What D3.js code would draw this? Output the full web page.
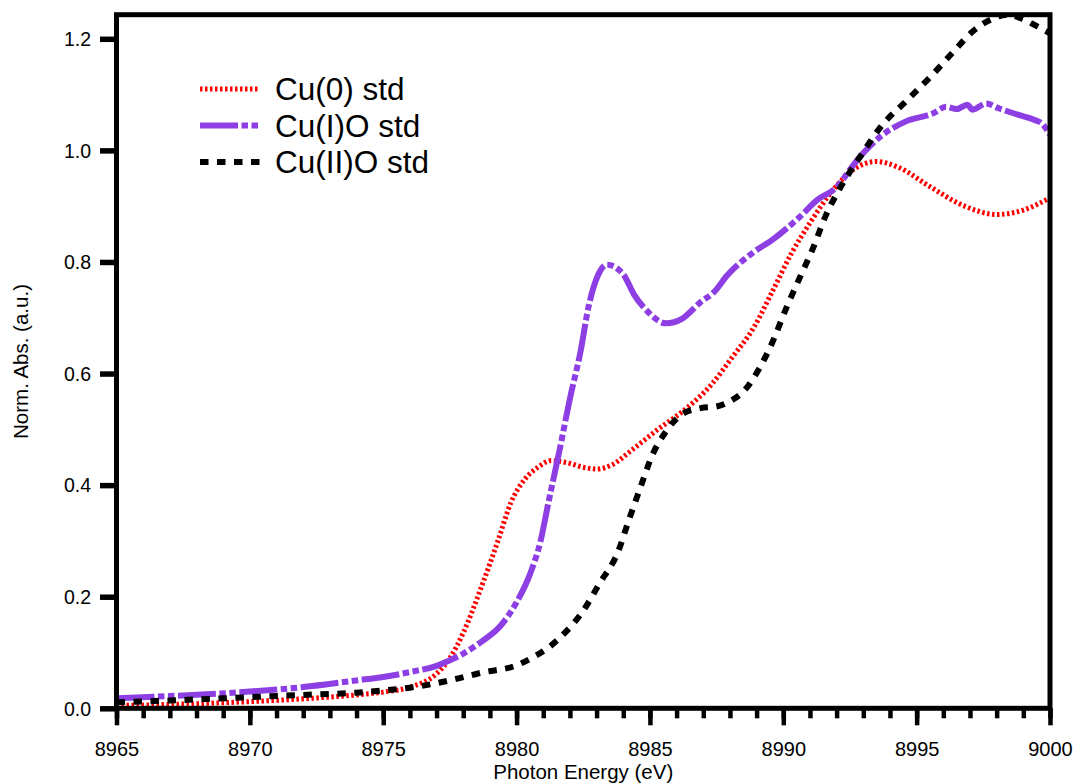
<!DOCTYPE html>
<html>
<head>
<meta charset="utf-8">
<script src="https://cdn.jsdelivr.net/npm/d3@7"></script>
<style>
  html, body { margin: 0; padding: 0; background: #fff; }
  svg { display: block; font-family: "Liberation Sans", Arial, sans-serif; }
</style>
</head>
<body>
<svg id="chart" width="1076" height="784"></svg>
<script>
// Cu K-edge XANES of reference standards (normalised absorption vs. photon energy)
const cu0Energy = [8965, 8967, 8970, 8972, 8974, 8975, 8976, 8977, 8977.5, 8978, 8978.7, 8979.3, 8979.8, 8980.3, 8980.8, 8981.3, 8981.9, 8982.5, 8983, 8983.6, 8984.3, 8985.3, 8986.3, 8987.3, 8988.1, 8988.9, 8989.6, 8990.3, 8991, 8991.8, 8992.7, 8993.5, 8994.3, 8995.5, 8996.8, 8998, 8999, 9000];
const cu0Abs    = [0.005, 0.007, 0.012, 0.017, 0.024, 0.029, 0.038, 0.062, 0.09, 0.135, 0.22, 0.30, 0.37, 0.41, 0.432, 0.444, 0.44, 0.432, 0.429, 0.437, 0.462, 0.50, 0.535, 0.58, 0.63, 0.683, 0.748, 0.815, 0.87, 0.925, 0.968, 0.98, 0.97, 0.935, 0.90, 0.885, 0.893, 0.915];

const cu1Energy = [8965, 8967, 8970, 8972, 8974, 8975, 8976, 8977, 8977.5, 8978, 8978.7, 8979.4, 8980, 8980.5, 8980.9, 8981.2, 8981.6, 8982, 8982.4, 8982.7, 8983, 8983.4, 8984, 8984.4, 8984.9, 8985.6, 8986.2, 8986.9, 8987.4, 8987.9, 8988.9, 8989.6, 8990.6, 8991.3, 8991.9, 8992.9, 8993.7, 8994.6, 8995.6, 8996.1, 8996.5, 8996.9, 8997.1, 8997.6, 8998.1, 8998.8, 8999.4, 8999.7, 9000];
const cu1Abs    = [0.018, 0.022, 0.03, 0.038, 0.05, 0.056, 0.065, 0.076, 0.086, 0.098, 0.12, 0.148, 0.19, 0.24, 0.30, 0.37, 0.46, 0.555, 0.64, 0.72, 0.77, 0.795, 0.778, 0.742, 0.712, 0.69, 0.698, 0.728, 0.746, 0.776, 0.818, 0.84, 0.88, 0.912, 0.93, 0.99, 1.027, 1.052, 1.066, 1.078, 1.074, 1.082, 1.073, 1.084, 1.075, 1.064, 1.055, 1.048, 1.028];

const cu2Energy = [8965, 8967, 8970, 8972, 8974, 8975, 8976, 8977, 8977.5, 8978.7, 8980, 8980.6, 8981.2, 8981.7, 8982.5, 8983.1, 8983.8, 8984.2, 8984.6, 8985.1, 8985.6, 8986.2, 8986.9, 8987.5, 8988.1, 8988.6, 8989.1, 8989.6, 8990.1, 8990.6, 8991.1, 8991.6, 8992.1, 8992.9, 8993.7, 8994.6, 8995.6, 8996.4, 8997.1, 8997.8, 8998.4, 8999, 8999.6, 9000];
const cu2Abs    = [0.011, 0.014, 0.02, 0.024, 0.028, 0.032, 0.037, 0.045, 0.05, 0.064, 0.077, 0.091, 0.109, 0.13, 0.175, 0.223, 0.28, 0.336, 0.39, 0.455, 0.496, 0.527, 0.538, 0.541, 0.553, 0.573, 0.609, 0.657, 0.716, 0.77, 0.823, 0.884, 0.93, 0.99, 1.045, 1.088, 1.136, 1.178, 1.213, 1.235, 1.243, 1.235, 1.22, 1.21];

const seriesNames = ["Cu(0) std", "Cu(I)O std", "Cu(II)O std"];
const xTickValues = [8965, 8970, 8975, 8980, 8985, 8990, 8995, 9000];
const yTickValues = [0.0, 0.2, 0.4, 0.6, 0.8, 1.0, 1.2];

const series = [
  { name: seriesNames[0], energy: cu0Energy, abs: cu0Abs, color: "#ff0000", width: 5, dash: "2.5,2.5" },
  { name: seriesNames[1], energy: cu1Energy, abs: cu1Abs, color: "#8e3fe3", width: 6, dash: "38,3.5,6.5,3.5,6.5,3.5" },
  { name: seriesNames[2], energy: cu2Energy, abs: cu2Abs, color: "#000000", width: 6, dash: "8.5,8.5" }
];

const svg = d3.select("#chart");
const plot = { left: 116.5, right: 1050, top: 14.7, bottom: 708.3 };

const x = d3.scaleLinear().domain([8965, 9000]).range([plot.left, plot.right]);
const y = d3.scaleLinear().domain([0, 1.2]).range([plot.bottom, 38.8]);

svg.append("defs").append("clipPath").attr("id", "plotClip")
  .append("rect")
  .attr("x", plot.left).attr("y", plot.top)
  .attr("width", plot.right - plot.left).attr("height", plot.bottom - plot.top);

// curves
const line = d3.line().x(d => x(d[0])).y(d => y(d[1])).curve(d3.curveMonotoneX);
const curves = svg.append("g").attr("clip-path", "url(#plotClip)");
series.forEach(s => {
  curves.append("path")
    .datum(s.energy.map((e, i) => [e, s.abs[i]]))
    .attr("d", line)
    .attr("fill", "none")
    .attr("stroke", s.color)
    .attr("stroke-width", s.width)
    .attr("stroke-dasharray", s.dash)
    .attr("stroke-linejoin", "round");
});

// frame
svg.append("rect")
  .attr("x", plot.left).attr("y", plot.top)
  .attr("width", plot.right - plot.left).attr("height", plot.bottom - plot.top)
  .attr("fill", "none").attr("stroke", "#000").attr("stroke-width", 5);

// x axis: minor ticks every 1 eV, major every 5 eV
const xMinor = svg.append("g").attr("transform", `translate(0,${plot.bottom})`)
  .call(d3.axisBottom(x).tickValues(d3.range(8965, 9001, 1)).tickSize(10).tickSizeOuter(0).tickFormat(""));
const xMajor = svg.append("g").attr("transform", `translate(0,${plot.bottom})`)
  .call(d3.axisBottom(x).tickValues(xTickValues).tickSize(17).tickSizeOuter(0).tickFormat(d3.format("d")).tickPadding(30));
[xMinor, xMajor].forEach(g => {
  g.select(".domain").remove();
  g.selectAll(".tick line").attr("stroke", "#000").attr("stroke-width", 4.5);
});
xMajor.selectAll(".tick text")
  .attr("y", 47.5).attr("dy", 0)
  .attr("font-size", 20).attr("fill", "#000")
  .attr("font-family", "'Liberation Sans', Arial, sans-serif");

// y axis
const yAxis = svg.append("g").attr("transform", `translate(${plot.left},0)`)
  .call(d3.axisLeft(y).tickValues(yTickValues).tickSize(16.5).tickSizeOuter(0).tickFormat(d3.format(".1f")).tickPadding(9));
yAxis.select(".domain").remove();
yAxis.selectAll(".tick line").attr("stroke", "#000").attr("stroke-width", 5.5);
yAxis.selectAll(".tick text")
  .attr("x", -25.5).attr("dy", "0.35em")
  .attr("font-size", 19.5).attr("fill", "#000")
  .attr("font-family", "'Liberation Sans', Arial, sans-serif");

// axis titles
svg.append("text")
  .attr("x", (plot.left + plot.right) / 2).attr("y", 779)
  .attr("text-anchor", "middle").attr("font-size", 20.5).attr("fill", "#000")
  .text("Photon Energy (eV)");
svg.append("text")
  .attr("transform", `translate(28,${(plot.top + plot.bottom) / 2}) rotate(-90)`)
  .attr("text-anchor", "middle").attr("font-size", 20.5).attr("fill", "#000")
  .text("Norm. Abs. (a.u.)");

// legend
const legend = svg.append("g");
const legendY = [89, 125.5, 162];
series.forEach((s, i) => {
  legend.append("line")
    .attr("x1", 200).attr("x2", 260)
    .attr("y1", legendY[i]).attr("y2", legendY[i])
    .attr("stroke", s.color).attr("stroke-width", s.width)
    .attr("stroke-dasharray", s.dash);
  legend.append("text")
    .attr("x", 275).attr("y", legendY[i] + 11)
    .attr("font-size", 31.5).attr("fill", "#000")
    .text(s.name);
});
</script>
</body>
</html>
